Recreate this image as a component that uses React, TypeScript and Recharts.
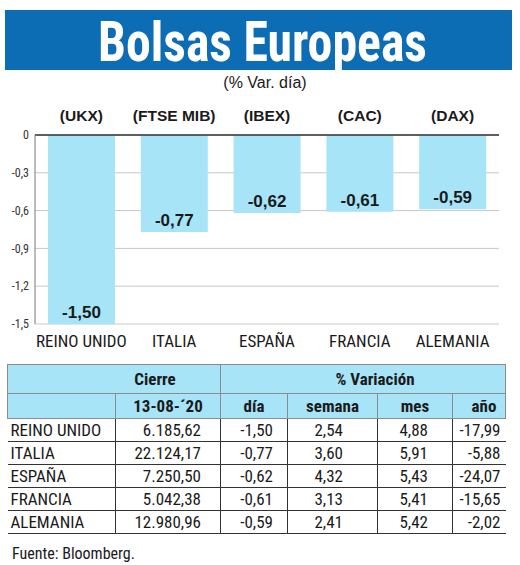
import { BarChart, Bar, XAxis, YAxis, CartesianGrid, ReferenceLine, LabelList } from "recharts";

const countries = ["REINO UNIDO", "ITALIA", "ESPAÑA", "FRANCIA", "ALEMANIA"];
const tickers = ["(UKX)", "(FTSE MIB)", "(IBEX)", "(CAC)", "(DAX)"];
const dayChange = [-1.5, -0.77, -0.62, -0.61, -0.59];
const closes = [6185.62, 22124.17, 7250.5, 5042.38, 12980.96];
const weekChange = [2.54, 3.6, 4.32, 3.13, 2.41];
const monthChange = [4.88, 5.91, 5.43, 5.41, 5.42];
const yearChange = [-17.99, -5.88, -24.07, -15.65, -2.02];
const yTicks = [0, -0.3, -0.6, -0.9, -1.2, -1.5];
const closeDate = "13-08-´20";

const NARROW = '"Liberation Sans Narrow", "Roboto Condensed", "DejaVu Sans Condensed", sans-serif';
const SANS = '"Liberation Sans", Arial, sans-serif';
const BAR_BLUE = "#a8e4f8";
const BANNER_BLUE = "#0c6db5";

const chartData = countries.map((c, i) => ({ country: c, ticker: tickers[i], value: dayChange[i] }));

// 1.5 -> "1,50", 6185.62 -> "6.185,62"
const fmt = (v: number, d = 2) => {
  const [int, dec] = Math.abs(v).toFixed(d).split(".");
  const grouped = int.replace(/\B(?=(\d{3})+(?!\d))/g, ".");
  return (v < 0 ? "-" : "") + grouped + (dec ? "," + dec : "");
};

const yFmt = (v: number) => (v === 0 ? "0" : fmt(v, 1));

const TopTick = ({ x, y, payload }: any) => (
  <text x={x} y={y - 6} textAnchor="middle" fontFamily={SANS} fontWeight="bold" fontSize={15.5} fill="#1a1a1a">
    {payload.value}
  </text>
);

const BottomTick = ({ x, y, payload }: any) => (
  <text x={x} y={y + 15} textAnchor="middle" fontFamily={NARROW} fontSize={17} fill="#1a1a1a">
    {payload.value}
  </text>
);

const BarValue = ({ x, y, width, height, value }: any) => {
  const bottom = Math.max(y, y + height);
  return (
    <text x={x + width / 2} y={bottom - 6} textAnchor="middle" fontFamily={SANS} fontWeight="bold" fontSize={17} fill="#1a1a1a">
      {fmt(value)}
    </text>
  );
};

const colWidths = [108, 105, 67, 90, 75, 53];
const padRight = [0, 19, 14, 34, 24, 5];

const headCell: React.CSSProperties = {
  background: BAR_BLUE,
  border: "1px solid #8c8c8c",
  fontWeight: "bold",
  fontFamily: NARROW,
  fontSize: 17,
  color: "#1a1a1a",
  padding: 0,
  textAlign: "center",
};

const App = () => {
  const rows = countries.map((c, i) => [c, fmt(closes[i]), fmt(dayChange[i]), fmt(weekChange[i]), fmt(monthChange[i]), fmt(yearChange[i])]);
  return (
    <div style={{ position: "absolute", left: 0, top: 0, width: 520, height: 565, background: "#fff", fontFamily: SANS, overflow: "hidden" }}>
      <div style={{ position: "absolute", left: 5, top: 10, width: 507, height: 60, background: BANNER_BLUE }} />
      <svg style={{ position: "absolute", left: 0, top: 0 }} width={520} height={76}>
        <text x={98} y={61} textLength={329} lengthAdjust="spacingAndGlyphs" fontFamily={NARROW} fontWeight="bold" fontSize={55} fill="#fff">
          Bolsas Europeas
        </text>
      </svg>
      <div style={{ position: "absolute", left: 0, top: 74, width: 530, textAlign: "center", fontSize: 16, lineHeight: "18px", color: "#1a1a1a" }}>
        (% Var. día)
      </div>

      <div style={{ position: "absolute", left: 0, top: 0 }}>
        <BarChart width={520} height={360} data={chartData} margin={{ top: 95, right: 21, left: 0, bottom: 0 }} barCategoryGap="14%">
          <CartesianGrid vertical={false} stroke="#c8c8c8" />
          <XAxis xAxisId="top" orientation="top" dataKey="ticker" height={40} axisLine={false} tickLine={false} tick={<TopTick />} interval={0} />
          <XAxis dataKey="country" height={36} axisLine={false} tickLine={false} tick={<BottomTick />} interval={0} />
          <YAxis
            width={35}
            domain={[-1.5, 0]}
            ticks={yTicks}
            tickFormatter={yFmt}
            tickLine={false}
            tickSize={4}
            tickMargin={2}
            axisLine={{ stroke: "#777" }}
            tick={{ fontFamily: NARROW, fontSize: 12, fill: "#333" }}
            interval={0}
          />
          <Bar dataKey="value" fill={BAR_BLUE} isAnimationActive={false}>
            <LabelList dataKey="value" content={<BarValue />} />
          </Bar>
          <ReferenceLine y={0} stroke="#333" strokeWidth={1.5} />
        </BarChart>
      </div>

      <table style={{ position: "absolute", left: 7, top: 364, width: 498, borderCollapse: "collapse", tableLayout: "fixed" }}>
        <colgroup>
          {colWidths.map((w, i) => (
            <col key={i} style={{ width: w }} />
          ))}
        </colgroup>
        <tbody>
          <tr style={{ height: 29 }}>
            <td colSpan={2} style={{ ...headCell, paddingLeft: 82 }}>Cierre</td>
            <td colSpan={4} style={{ ...headCell, paddingLeft: 24 }}>% Variación</td>
          </tr>
          <tr style={{ height: 25 }}>
            <td style={headCell}></td>
            <td style={headCell}>{closeDate}</td>
            <td style={headCell}>día</td>
            <td style={headCell}>semana</td>
            <td style={headCell}>mes</td>
            <td style={{ ...headCell, paddingLeft: 10 }}>año</td>
          </tr>
          {rows.map((r, i) => (
            <tr key={i} style={{ height: 23 }}>
              {r.map((cell, j) => (
                <td
                  key={j}
                  style={{
                    padding: 0,
                    paddingLeft: j === 0 ? 3 : 0,
                    paddingRight: padRight[j],
                    textAlign: j === 0 ? "left" : "right",
                    fontFamily: NARROW,
                    fontSize: 17,
                    color: "#1a1a1a",
                    borderBottom: "1px solid #333",
                    borderLeft: j === 0 ? "none" : "1px solid #333",
                    lineHeight: "22px",
                    verticalAlign: "bottom",
                    whiteSpace: "nowrap",
                  }}
                >
                  {cell}
                </td>
              ))}
            </tr>
          ))}
        </tbody>
      </table>

      <div style={{ position: "absolute", left: 12, top: 544, fontFamily: NARROW, fontSize: 16, color: "#1a1a1a" }}>
        Fuente: Bloomberg.
      </div>
    </div>
  );
};

export default App;
